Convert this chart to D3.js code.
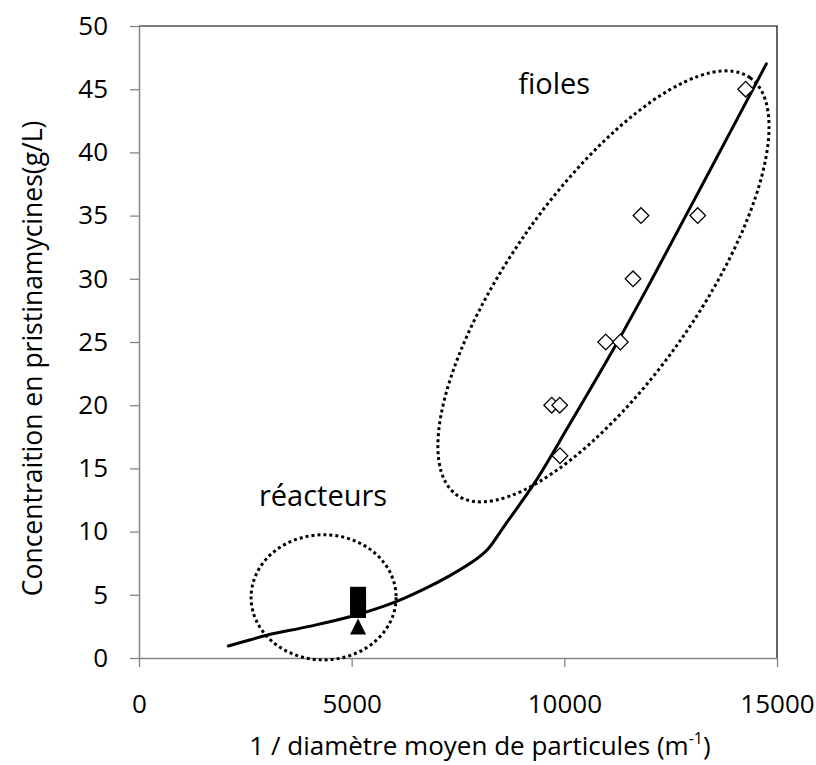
<!DOCTYPE html>
<html>
<head>
<meta charset="utf-8">
<script src="https://cdn.jsdelivr.net/npm/d3@7"></script>
<style>
  html, body { margin: 0; padding: 0; background: #fff; }
  svg { display: block; font-family: "Open Sans", "Noto Sans", sans-serif; }
</style>
</head>
<body>
<svg id="chart" width="816" height="765"></svg>
<script>
// Axis ticks
const xTicks = [0, 5000, 10000, 15000];
const yTicks = [0, 5, 10, 15, 20, 25, 30, 35, 40, 45, 50];

// Flask ("fioles") measurements
const fiolesX = [14264, 13136, 11803, 11615, 10973, 11317, 9703, 9891, 9898];
const fiolesY = [45, 35, 35, 30, 25, 25, 20, 20, 16];

// Reactor ("réacteurs") measurements
const reacteursCarresX = [5150, 5150, 5150];
const reacteursCarresY = [5.0, 4.4, 3.8];
const reacteursTrianglesX = [5150];
const reacteursTrianglesY = [2.5];

// Trend curve
const courbeX = [2100, 2600, 3000, 4000, 5000, 6000, 6700, 7300, 7900, 8200, 8600, 9300, 10100, 11250, 12050, 13300, 14750];
const courbeY = [0.95, 1.42, 1.8, 2.5, 3.3, 4.4, 5.45, 6.5, 7.75, 8.6, 10.5, 13.85, 18.35, 25.0, 29.9, 37.8, 47.0];

const svg = d3.select("#chart");
const W = 816, H = 765;
const m = { left: 139, right: 39, top: 26, bottom: 107 };
const pw = W - m.left - m.right, ph = H - m.top - m.bottom;

const x = d3.scaleLinear().domain([0, 15000]).range([m.left, m.left + pw]);
const y = d3.scaleLinear().domain([0, 50]).range([m.top + ph, m.top]);

svg.append("rect").attr("width", W).attr("height", H).attr("fill", "#fff");

// Plot frame (top & right borders)
svg.append("path")
  .attr("d", `M${x(0)},${y(50)}H${x(15000)}V${y(0)}`)
  .attr("fill", "none").attr("stroke", "#000").attr("stroke-width", 1.2);

const axisGray = "#868686";
const tickFont = 26;

const gx = svg.append("g").attr("transform", `translate(0,${y(0)})`)
  .call(d3.axisBottom(x).tickValues(xTicks).tickSize(9).tickSizeOuter(0).tickPadding(21).tickFormat(d3.format("d")));
const gy = svg.append("g").attr("transform", `translate(${x(0)},0)`)
  .call(d3.axisLeft(y).tickValues(yTicks).tickSize(9).tickSizeOuter(0).tickPadding(22).tickFormat(d3.format("d")));

[gx, gy].forEach(g => {
  g.select(".domain").attr("stroke", axisGray).attr("stroke-width", 1.5);
  g.selectAll(".tick line").attr("stroke", axisGray).attr("stroke-width", 1.3);
  g.selectAll(".tick text").attr("fill", "#000").attr("font-size", tickFont)
    .attr("font-family", "'Open Sans', sans-serif");
});
gx.selectAll(".tick text").attr("dy", "0.95em");

// Dotted ellipses grouping the two series
const dotted = { stroke: "#000", width: 3, dash: "3,3" };
svg.append("ellipse")
  .attr("cx", x(4340)).attr("cy", y(4.8))
  .attr("rx", x(1705) - x(0)).attr("ry", y(0) - y(4.95))
  .attr("fill", "none").attr("stroke", dotted.stroke)
  .attr("stroke-width", dotted.width).attr("stroke-dasharray", dotted.dash);

svg.append("ellipse")
  .attr("transform", `translate(${x(10920)},${y(29.4)}) rotate(-54.9)`)
  .attr("rx", 255).attr("ry", 94)
  .attr("fill", "none").attr("stroke", dotted.stroke)
  .attr("stroke-width", dotted.width).attr("stroke-dasharray", dotted.dash);

// Trend curve
const line = d3.line().x(d => x(d[0])).y(d => y(d[1])).curve(d3.curveCatmullRom.alpha(0.5));
svg.append("path")
  .datum(d3.zip(courbeX, courbeY))
  .attr("d", line)
  .attr("fill", "none").attr("stroke", "#000").attr("stroke-width", 3)
  .attr("stroke-linecap", "round");

// Flask markers: open diamonds
const diamond = d3.symbol().type(d3.symbolSquare).size(122);
svg.append("g").selectAll("path")
  .data(d3.zip(fiolesX, fiolesY))
  .join("path")
  .attr("transform", d => `translate(${x(d[0])},${y(d[1])}) rotate(45)`)
  .attr("d", diamond)
  .attr("fill", "#fff").attr("stroke", "#000").attr("stroke-width", 1.3);

// Reactor markers: filled squares and triangle
svg.append("g").selectAll("rect")
  .data(d3.zip(reacteursCarresX, reacteursCarresY))
  .join("rect")
  .attr("x", d => x(d[0]) - 8).attr("y", d => y(d[1]) - 8)
  .attr("width", 16).attr("height", 16).attr("fill", "#000");

svg.append("g").selectAll("path")
  .data(d3.zip(reacteursTrianglesX, reacteursTrianglesY))
  .join("path")
  .attr("d", d => {
    const cx = x(d[0]), cy = y(d[1]);
    return `M${cx},${cy - 8}L${cx + 8},${cy + 8}L${cx - 8},${cy + 8}Z`;
  })
  .attr("fill", "#000");

// Group labels
svg.append("text").attr("x", x(8915)).attr("y", y(44.6))
  .attr("font-size", 29).attr("fill", "#000").text("fioles");
svg.append("text").attr("x", x(2820)).attr("y", y(12.0))
  .attr("font-size", 29).attr("fill", "#000").text("réacteurs");

// Axis titles
const xt = svg.append("text")
  .attr("x", 480).attr("y", 755)
  .attr("text-anchor", "middle").attr("font-size", 26).attr("fill", "#000");
xt.append("tspan").text("1 / diamètre moyen de particules (m");
xt.append("tspan").attr("font-size", 16).attr("dy", -11).text("-1");
xt.append("tspan").attr("dy", 11).text(")");

svg.append("text")
  .attr("transform", `translate(42,${y(23.7)}) rotate(-90)`)
  .attr("text-anchor", "middle").attr("font-size", 26.5).attr("fill", "#000")
  .text("Concentraition en pristinamycines(g/L)");
</script>
</body>
</html>
